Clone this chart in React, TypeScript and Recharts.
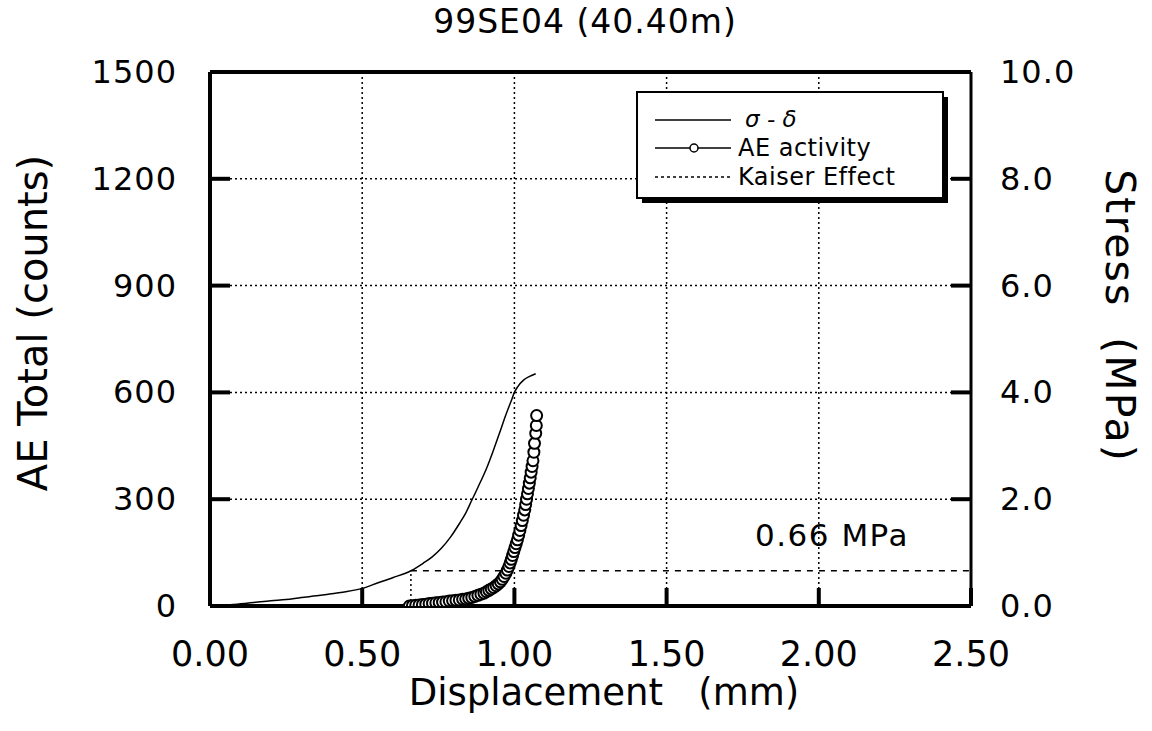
import {
  ComposedChart,
  Line,
  XAxis,
  YAxis,
  CartesianGrid,
  ReferenceLine,
} from "recharts";

const FONT = "'DejaVu Sans', sans-serif";

// axis ticks
const xTicks = [0, 0.5, 1, 1.5, 2, 2.5];
const aeTicks = [0, 300, 600, 900, 1200, 1500];
const stressTicks = [0, 2, 4, 6, 8, 10];

// stress - displacement curve (mm, MPa)
const stressDisp = [
  0.0, 0.05, 0.1, 0.15, 0.2, 0.25, 0.3, 0.35, 0.4, 0.45, 0.5, 0.55, 0.6, 0.66,
  0.7, 0.73, 0.76, 0.79, 0.82, 0.84, 0.86, 0.88, 0.91, 0.93, 0.95, 0.97, 0.99,
  1.0, 1.01, 1.03, 1.05, 1.07,
];
const stressMPa = [
  0.02, 0.02, 0.04, 0.07, 0.1, 0.12, 0.16, 0.19, 0.23, 0.27, 0.33, 0.43, 0.53,
  0.66, 0.8, 0.92, 1.08, 1.29, 1.55, 1.74, 1.98, 2.22, 2.6, 2.9, 3.22, 3.55,
  3.85, 4.0, 4.1, 4.23, 4.3, 4.35,
];

// AE activity (mm, counts)
const aeDisp = [
  0.655, 0.665, 0.676, 0.687, 0.698, 0.709, 0.72, 0.731, 0.742, 0.753, 0.764,
  0.775, 0.786, 0.797, 0.808, 0.819, 0.83, 0.84, 0.85, 0.86, 0.87, 0.88, 0.89,
  0.9, 0.908, 0.916, 0.924, 0.932, 0.94, 0.947, 0.954, 0.96, 0.966, 0.972,
  0.977, 0.982, 0.986, 0.99, 0.994, 0.998, 1.002, 1.006, 1.01, 1.014, 1.018,
  1.022, 1.026, 1.03, 1.034, 1.037, 1.04, 1.043, 1.046, 1.049, 1.052, 1.055,
  1.058, 1.061, 1.064, 1.066, 1.07, 1.072, 1.073,
];
const aeCounts = [
  0, 1, 2, 3, 4, 5, 7, 8, 9, 10, 11, 12, 14, 15, 16, 17, 19, 20, 22, 24, 27, 30,
  33, 36, 40, 44, 48, 52, 57, 62, 68, 75, 83, 92, 101, 111, 121, 131, 142, 153,
  164, 175, 186, 199, 212, 226, 240, 255, 270, 285, 300, 315, 330, 345, 360,
  376, 392, 408, 432, 457, 485, 507, 535,
];

// Kaiser effect point
const kaiserDisp = 0.66;
const kaiserStress = 0.66;

const stressData = stressDisp.map((x, i) => ({ x, stress: stressMPa[i] }));
const aeData = aeDisp.map((x, i) => ({ x, count: aeCounts[i] }));

const LEFT_MARGIN = 33;
const RIGHT_MARGIN = 29;
const BOTTOM_MARGIN = 34;

const LeftTick = (props: any) => {
  const { x, y, payload } = props;
  const edge = x + LEFT_MARGIN;
  return (
    <g>
      <line x1={edge} x2={edge + 20} y1={y} y2={y} stroke="#000" strokeWidth={4} />
      <text
        x={x}
        y={y}
        textAnchor="end"
        dominantBaseline="central"
        fontFamily={FONT}
        fontSize={32}
        letterSpacing={1}
        fill="#000"
      >
        {payload.value}
      </text>
    </g>
  );
};

const RightTick = (props: any) => {
  const { x, y, payload } = props;
  const edge = x - RIGHT_MARGIN;
  return (
    <g>
      <line x1={edge} x2={edge - 20} y1={y} y2={y} stroke="#000" strokeWidth={4} />
      <text
        x={x}
        y={y}
        textAnchor="start"
        dominantBaseline="central"
        fontFamily={FONT}
        fontSize={32}
        letterSpacing={1}
        fill="#000"
      >
        {Number(payload.value).toFixed(1)}
      </text>
    </g>
  );
};

const BottomTick = (props: any) => {
  const { x, y, payload } = props;
  const edge = y - BOTTOM_MARGIN;
  return (
    <g>
      <line x1={x} x2={x} y1={edge} y2={edge - 18} stroke="#000" strokeWidth={4} />
      <text
        x={x}
        y={y}
        dy="0.75em"
        textAnchor="middle"
        fontFamily={FONT}
        fontSize={35}
        fill="#000"
      >
        {Number(payload.value).toFixed(2)}
      </text>
    </g>
  );
};

export default function App() {
  return (
    <div
      style={{
        position: "absolute",
        left: 0,
        top: 0,
        width: 1152,
        height: 731,
        background: "#fff",
      }}
    >
      <ComposedChart
        width={1152}
        height={731}
        margin={{ top: 72, left: 110, right: 81, bottom: 65 }}
      >
        <CartesianGrid
          yAxisId="left"
          stroke="#000"
          strokeWidth={1.5}
          strokeDasharray="2 3"
        />
        <XAxis
          type="number"
          dataKey="x"
          domain={[0, 2.5]}
          ticks={xTicks}
          interval={0}
          height={60}
          tickSize={0}
          tickMargin={BOTTOM_MARGIN}
          tickLine={false}
          axisLine={{ stroke: "#000", strokeWidth: 4 }}
          tick={<BottomTick />}
          allowDataOverflow
        />
        <YAxis
          yAxisId="left"
          type="number"
          domain={[0, 1500]}
          ticks={aeTicks}
          interval={0}
          width={100}
          tickSize={0}
          tickMargin={LEFT_MARGIN}
          tickLine={false}
          axisLine={{ stroke: "#000", strokeWidth: 4 }}
          tick={<LeftTick />}
          allowDataOverflow
        />
        <YAxis
          yAxisId="right"
          orientation="right"
          type="number"
          domain={[0, 10]}
          ticks={stressTicks}
          interval={0}
          width={100}
          tickSize={0}
          tickMargin={RIGHT_MARGIN}
          tickLine={false}
          axisLine={{ stroke: "#000", strokeWidth: 3 }}
          tick={<RightTick />}
          allowDataOverflow
        />
        <ReferenceLine yAxisId="left" y={1500} stroke="#000" strokeWidth={4} />
        <ReferenceLine
          yAxisId="right"
          segment={[
            { x: kaiserDisp, y: kaiserStress },
            { x: 2.5, y: kaiserStress },
          ]}
          stroke="#000"
          strokeWidth={1.5}
          strokeDasharray="6 6"
        />
        <ReferenceLine
          yAxisId="right"
          segment={[
            { x: kaiserDisp, y: 0 },
            { x: kaiserDisp, y: kaiserStress },
          ]}
          stroke="#000"
          strokeWidth={1.5}
          strokeDasharray="2 3"
        />
        <Line
          yAxisId="right"
          data={stressData}
          dataKey="stress"
          type="monotone"
          stroke="#000"
          strokeWidth={1.5}
          dot={false}
          isAnimationActive={false}
        />
        <Line
          yAxisId="left"
          data={aeData}
          dataKey="count"
          type="linear"
          stroke="#000"
          strokeWidth={2}
          dot={{ r: 5.5, fill: "#fff", stroke: "#000", strokeWidth: 2 }}
          isAnimationActive={false}
        />
      </ComposedChart>

      <svg
        width={1152}
        height={731}
        style={{ position: "absolute", left: 0, top: 0, pointerEvents: "none" }}
      >
        <text x={585} y={33} textAnchor="middle" fontFamily={FONT} fontSize={33} letterSpacing={1}>
          99SE04 (40.40m)
        </text>
        <text
          transform="translate(33, 323) rotate(-90)"
          textAnchor="middle"
          dominantBaseline="central"
          fontFamily={FONT}
          fontSize={40}
        >
          AE Total (counts)
        </text>
        <text
          transform="translate(1120, 316) rotate(90)"
          textAnchor="middle"
          dominantBaseline="central"
          fontFamily={FONT}
          fontSize={41}
          letterSpacing={2}
          style={{ whiteSpace: "pre" }}
        >
          {"Stress  (MPa)"}
        </text>
        <text x={604} y={705} textAnchor="middle" fontFamily={FONT} fontSize={37} style={{ whiteSpace: "pre" }}>
          {"Displacement   (mm)"}
        </text>
        <text x={755} y={546} fontFamily={FONT} fontSize={31} letterSpacing={1.5}>
          0.66 MPa
        </text>

        {/* legend box */}
        <rect x={642} y={97} width={306} height={106} fill="#000" />
        <rect x={637} y={92} width={306} height={106} fill="#fff" stroke="#000" strokeWidth={2} />
        <line x1={655} x2={731} y1={120} y2={120} stroke="#000" strokeWidth={1.5} />
        <text x={745} y={127} fontFamily={FONT} fontSize={23} fontStyle="italic">
          σ - δ
        </text>
        <line x1={655} x2={731} y1={148} y2={148} stroke="#000" strokeWidth={1.5} />
        <circle cx={694} cy={148} r={4} fill="#fff" stroke="#000" strokeWidth={1.5} />
        <text x={738} y={156} fontFamily={FONT} fontSize={24} letterSpacing={0.5}>
          AE activity
        </text>
        <line x1={655} x2={731} y1={177} y2={177} stroke="#000" strokeWidth={1.5} strokeDasharray="3 3" />
        <text x={738} y={185} fontFamily={FONT} fontSize={24} letterSpacing={0.5}>
          Kaiser Effect
        </text>
      </svg>
    </div>
  );
}
